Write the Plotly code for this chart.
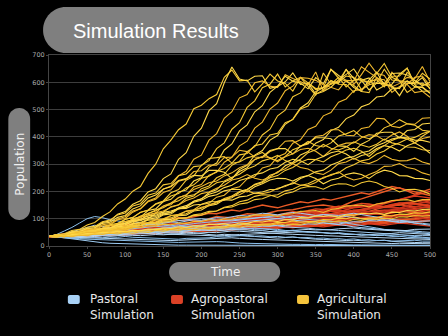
import plotly.graph_objects as go

# ---------------- data (every 10 time steps) ----------------
time = list(range(0, 501, 10))

pastoral_runs = [
    [35, 34, 30, 26, 22, 18, 14, 12, 10, 9,
     8, 7, 6, 5, 5, 4, 4, 3, 3, 3,
     2, 2, 2, 2, 1, 1, 1, 1, 1, 1,
     1, 1, 1, 1, 1, 1, 1, 1, 1, 1,
     1, 1, 1, 1, 1, 1, 1, 1, 1, 1,
     1],
    [35, 38, 44, 52, 60, 70, 76, 72, 66, 62,
     60, 58, 54, 55, 52, 50, 47, 48, 51, 49,
     45, 42, 40, 43, 41, 38, 36, 35, 33, 30,
     29, 31, 33, 30, 27, 25, 24, 22, 21, 20,
     21, 19, 18, 20, 21, 17, 15, 14, 13, 12,
     12],
    [35, 37, 39, 40, 43, 46, 49, 52, 56, 58,
     61, 64, 68, 70, 72, 70, 69, 74, 79, 82,
     85, 88, 91, 93, 95, 98, 101, 103, 106, 108,
     111, 107, 102, 100, 98, 95, 92, 90, 88, 84,
     80, 75, 70, 66, 61, 58, 55, 52, 50, 48,
     45],
    [35, 35, 37, 36, 39, 38, 42, 43, 46, 45,
     49, 50, 53, 51, 49, 54, 56, 55, 59, 58,
     62, 61, 63, 64, 67, 66, 71, 70, 73, 72,
     76, 75, 79, 77, 81, 80, 85, 82, 80, 86,
     89, 88, 93, 92, 96, 92, 89, 90, 84, 83,
     80],
    [35, 34, 34, 32, 30, 29, 28, 27, 26, 25,
     25, 24, 24, 23, 22, 21, 20, 21, 22, 24,
     25, 27, 28, 29, 30, 28, 26, 25, 24, 23,
     22, 21, 20, 19, 18, 17, 16, 15, 14, 13,
     12, 11, 10, 9, 8, 9, 10, 10, 9, 8,
     8],
    [35, 37, 36, 40, 39, 43, 42, 46, 45, 48,
     47, 50, 49, 52, 51, 54, 55, 57, 58, 56,
     57, 59, 61, 58, 59, 61, 63, 65, 64, 62,
     61, 57, 56, 52, 52, 49, 49, 45, 46, 43,
     43, 40, 41, 38, 39, 35, 36, 32, 31, 28,
     28],
    [35, 37, 39, 43, 45, 50, 52, 57, 60, 66,
     68, 73, 75, 80, 82, 87, 90, 95, 98, 99,
     100, 97, 95, 92, 92, 95, 98, 102, 105, 103,
     100, 97, 96, 93, 90, 87, 85, 82, 80, 75,
     70, 67, 65, 62, 60, 59, 58, 56, 55, 52,
     50],
    [35, 33, 34, 35, 36, 37, 38, 40, 41, 42,
     43, 44, 45, 46, 47, 44, 43, 40, 41, 38,
     39, 36, 37, 38, 41, 42, 43, 44, 46, 47,
     49, 50, 51, 52, 53, 50, 49, 46, 46, 43,
     43, 40, 41, 42, 45, 46, 49, 47, 47, 44,
     42],
    [35, 33, 32, 30, 28, 29, 31, 30, 33, 32,
     35, 32, 31, 28, 29, 26, 26, 25, 28, 29,
     31, 30, 34, 33, 36, 37, 39, 36, 37, 34,
     35, 32, 33, 30, 31, 28, 29, 26, 27, 24,
     26, 22, 23, 20, 21, 18, 19, 18, 21, 18,
     18],
    [35, 38, 40, 43, 45, 48, 50, 53, 55, 53,
     52, 55, 58, 60, 62, 65, 68, 70, 72, 74,
     75, 78, 80, 83, 85, 88, 90, 93, 95, 98,
     100, 105, 110, 108, 105, 110, 115, 114, 112, 116,
     120, 115, 110, 105, 100, 97, 94, 92, 90, 91,
     92],
    [35, 36, 37, 35, 35, 37, 39, 40, 43, 44,
     46, 47, 49, 50, 53, 51, 51, 52, 55, 56,
     59, 57, 56, 58, 62, 59, 59, 56, 56, 53,
     53, 54, 57, 58, 61, 59, 59, 60, 63, 64,
     66, 63, 61, 59, 59, 56, 56, 57, 61, 61,
     62],
    [35, 32, 30, 28, 26, 25, 24, 22, 20, 19,
     18, 17, 16, 15, 14, 13, 12, 13, 14, 15,
     14, 15, 16, 15, 12, 11, 10, 9, 8, 8,
     7, 7, 6, 6, 5, 5, 6, 5, 5, 5,
     4, 4, 4, 4, 3, 3, 3, 3, 3, 2,
     2],
    [35, 36, 38, 36, 36, 39, 40, 43, 41, 45,
     47, 50, 50, 53, 54, 57, 57, 61, 62, 65,
     66, 69, 70, 74, 76, 79, 80, 78, 77, 74,
     74, 70, 69, 66, 65, 62, 61, 58, 57, 55,
     53, 50, 50, 47, 45, 42, 41, 38, 38, 38,
     38],
    [35, 34, 36, 35, 34, 33, 35, 37, 36, 38,
     40, 39, 38, 40, 42, 41, 43, 45, 47, 46,
     48, 50, 49, 52, 55, 54, 52, 50, 49, 47,
     46, 44, 43, 41, 40, 39, 38, 37, 36, 35,
     34, 33, 31, 30, 29, 28, 27, 26, 25, 24,
     24],
    [35, 42, 55, 68, 84, 100, 108, 104, 96, 92,
     88, 90, 84, 80, 82, 76, 74, 78, 72, 70,
     73, 68, 66, 70, 64, 62, 65, 60, 58, 61,
     56, 55, 58, 53, 50, 52, 48, 46, 49, 45,
     42, 44, 40, 38, 41, 37, 35, 38, 34, 32,
     30],
    [35, 37, 40, 44, 47, 52, 56, 60, 64, 68,
     72, 70, 76, 80, 78, 84, 88, 86, 92, 96,
     94, 100, 104, 102, 108, 112, 110, 116, 120, 118,
     114, 119, 123, 120, 116, 112, 115, 110, 106, 108,
     104, 100, 96, 98, 94, 90, 86, 88, 84, 80,
     76],
]

agropastoral_runs = [
    [35, 39, 41, 45, 46, 43, 55, 57, 61, 57,
     58, 62, 66, 71, 74, 68, 70, 77, 83, 87,
     90, 85, 86, 92, 97, 100, 104, 98, 99, 106,
     110, 116, 121, 115, 113, 120, 126, 130, 133, 126,
     124, 130, 137, 142, 145, 150, 152, 146, 144, 148,
     144],
    [35, 33, 33, 37, 39, 43, 45, 42, 43, 48,
     50, 54, 56, 52, 52, 57, 61, 56, 58, 62,
     66, 70, 72, 68, 68, 73, 77, 81, 83, 78,
     79, 84, 88, 85, 84, 91, 95, 90, 91, 96,
     100, 104, 106, 101, 98, 106, 112, 109, 108, 113,
     117],
    [35, 40, 44, 46, 49, 54, 58, 62, 63, 68,
     72, 70, 70, 77, 83, 86, 88, 93, 95, 94,
     92, 100, 108, 106, 104, 111, 118, 117, 115, 122,
     129, 131, 133, 139, 145, 148, 150, 146, 141, 153,
     165, 173, 182, 192, 201, 208, 214, 202, 190, 199,
     208],
    [35, 36, 37, 40, 42, 41, 40, 45, 49, 48,
     47, 53, 58, 57, 55, 61, 66, 64, 62, 68,
     74, 73, 71, 76, 80, 83, 86, 85, 83, 89,
     95, 98, 101, 99, 97, 104, 110, 108, 105, 112,
     118, 116, 114, 119, 123, 127, 130, 128, 126, 131,
     135],
    [35, 33, 32, 35, 38, 37, 36, 39, 42, 41,
     40, 44, 47, 46, 45, 49, 52, 51, 50, 54,
     57, 56, 55, 58, 61, 64, 67, 66, 64, 67,
     70, 73, 76, 74, 72, 76, 80, 79, 77, 81,
     84, 87, 90, 88, 86, 90, 93, 91, 89, 93,
     96],
    [35, 39, 42, 45, 47, 50, 52, 56, 60, 58,
     57, 63, 68, 72, 75, 74, 72, 79, 85, 88,
     89, 87, 84, 91, 98, 101, 104, 108, 111, 109,
     107, 114, 120, 124, 127, 124, 121, 129, 136, 139,
     142, 146, 150, 148, 145, 152, 158, 155, 152, 159,
     166],
    [35, 37, 38, 40, 41, 45, 48, 47, 46, 51,
     55, 58, 62, 60, 59, 63, 67, 69, 70, 74,
     78, 82, 85, 84, 82, 88, 93, 97, 100, 98,
     96, 102, 108, 111, 115, 114, 112, 118, 124, 126,
     131, 129, 127, 135, 143, 147, 150, 156, 162, 167,
     171],
    [35, 34, 34, 37, 39, 38, 37, 41, 44, 43,
     42, 45, 48, 51, 53, 51, 50, 54, 57, 56,
     55, 58, 61, 64, 66, 64, 63, 67, 70, 73,
     75, 74, 72, 76, 79, 82, 84, 82, 81, 85,
     89, 88, 86, 90, 94, 97, 99, 98, 96, 100,
     103],
    [35, 38, 40, 43, 46, 44, 43, 47, 51, 54,
     57, 55, 54, 59, 63, 66, 68, 66, 65, 71,
     76, 79, 81, 85, 88, 86, 84, 89, 93, 96,
     99, 103, 106, 104, 102, 109, 115, 118, 120, 117,
     114, 120, 126, 129, 131, 128, 125, 132, 138, 140,
     142],
    [35, 37, 39, 42, 44, 47, 49, 48, 47, 52,
     56, 59, 62, 61, 59, 65, 70, 73, 76, 75,
     73, 79, 84, 88, 92, 90, 88, 95, 101, 104,
     107, 111, 114, 112, 110, 117, 123, 127, 130, 128,
     126, 132, 138, 141, 144, 142, 139, 147, 154, 151,
     148],
    [35, 33, 31, 34, 36, 39, 41, 40, 39, 43,
     46, 49, 51, 50, 48, 52, 56, 59, 61, 60,
     58, 63, 67, 70, 72, 71, 69, 74, 78, 81,
     83, 82, 80, 85, 90, 93, 95, 94, 92, 97,
     101, 104, 106, 105, 103, 108, 113, 116, 118, 121,
     124],
    [35, 37, 38, 41, 43, 45, 47, 51, 53, 52,
     50, 56, 61, 64, 66, 65, 63, 69, 74, 77,
     79, 78, 76, 82, 88, 91, 93, 96, 98, 96,
     94, 101, 107, 110, 113, 117, 120, 118, 116, 123,
     130, 133, 136, 139, 142, 140, 138, 147, 155, 158,
     160],
    [35, 35, 36, 38, 40, 43, 45, 50, 50, 49,
     48, 53, 57, 56, 55, 60, 64, 67, 70, 68,
     66, 71, 76, 79, 82, 80, 78, 83, 88, 91,
     94, 93, 91, 96, 101, 104, 106, 104, 102, 108,
     113, 116, 119, 117, 115, 121, 126, 124, 122, 127,
     131],
    [35, 39, 42, 46, 50, 49, 47, 53, 58, 62,
     66, 64, 63, 70, 75, 79, 82, 81, 79, 86,
     92, 95, 98, 97, 95, 101, 107, 111, 115, 113,
     112, 117, 122, 120, 118, 125, 132, 137, 141, 145,
     148, 147, 145, 153, 160, 165, 170, 177, 183, 180,
     176],
    [35, 35, 35, 37, 38, 40, 42, 41, 40, 43,
     46, 48, 50, 49, 47, 50, 54, 53, 52, 55,
     59, 61, 63, 62, 60, 64, 67, 70, 72, 71,
     69, 73, 76, 75, 73, 77, 81, 84, 86, 85,
     83, 87, 91, 90, 88, 92, 96, 98, 100, 103,
     106],
    [35, 37, 39, 42, 45, 44, 42, 47, 51, 54,
     56, 55, 53, 58, 62, 65, 68, 67, 65, 70,
     75, 78, 81, 80, 78, 84, 87, 90, 93, 92,
     90, 96, 101, 104, 107, 105, 104, 110, 116, 119,
     121, 120, 118, 124, 130, 133, 136, 135, 133, 140,
     146],
    [35, 36, 37, 40, 42, 45, 46, 45, 44, 48,
     51, 54, 56, 55, 53, 57, 61, 64, 67, 66,
     65, 69, 72, 71, 69, 74, 78, 81, 83, 82,
     80, 84, 88, 91, 93, 92, 90, 95, 99, 102,
     105, 104, 102, 106, 110, 113, 116, 115, 113, 118,
     122],
    [35, 39, 43, 45, 48, 52, 55, 54, 52, 58,
     62, 66, 68, 67, 65, 71, 77, 80, 82, 81,
     79, 86, 91, 94, 97, 96, 94, 101, 107, 110,
     113, 112, 110, 117, 123, 126, 128, 127, 125, 133,
     140, 143, 146, 145, 143, 150, 157, 160, 162, 165,
     168],
    [35, 34, 34, 37, 40, 39, 38, 42, 45, 48,
     50, 49, 48, 51, 53, 57, 60, 63, 66, 64,
     63, 67, 70, 73, 76, 74, 73, 77, 80, 83,
     86, 85, 83, 88, 92, 91, 89, 93, 97, 100,
     103, 102, 100, 104, 108, 111, 114, 113, 112, 111,
     110],
    [35, 37, 40, 43, 46, 48, 51, 50, 49, 53,
     57, 60, 63, 62, 60, 65, 69, 72, 74, 72,
     71, 76, 81, 84, 86, 85, 83, 89, 94, 97,
     100, 98, 97, 103, 108, 111, 113, 112, 110, 116,
     121, 124, 127, 126, 124, 130, 136, 139, 142, 149,
     155],
    [35, 36, 37, 36, 35, 38, 40, 43, 44, 43,
     42, 45, 48, 47, 46, 49, 53, 55, 56, 55,
     53, 57, 60, 59, 58, 61, 64, 67, 68, 67,
     65, 69, 72, 71, 70, 73, 76, 78, 80, 79,
     77, 81, 84, 83, 82, 85, 88, 87, 86, 89,
     92],
    [35, 38, 41, 43, 45, 49, 52, 55, 57, 56,
     55, 60, 64, 67, 70, 69, 67, 73, 77, 80,
     83, 82, 80, 86, 91, 94, 97, 96, 94, 99,
     104, 103, 100, 106, 112, 115, 118, 117, 115, 122,
     128, 134, 140, 147, 155, 162, 170, 178, 186, 193,
     200],
    [35, 39, 44, 48, 52, 55, 60, 64, 67, 72,
     76, 80, 85, 83, 88, 95, 99, 104, 101, 108,
     115, 120, 118, 125, 132, 128, 135, 142, 150, 145,
     140, 148, 155, 162, 158, 165, 172, 168, 175, 182,
     188, 195, 190, 200, 210, 218, 212, 205, 198, 190,
     185],
    [35, 34, 37, 40, 39, 43, 46, 50, 48, 52,
     56, 54, 58, 62, 60, 64, 68, 72, 70, 74,
     78, 82, 80, 76, 80, 84, 88, 86, 82, 86,
     90, 94, 92, 88, 92, 96, 100, 98, 94, 98,
     102, 106, 104, 100, 104, 108, 112, 110, 106, 102,
     98],
    [35, 38, 42, 40, 45, 50, 48, 53, 58, 56,
     61, 66, 64, 69, 74, 72, 77, 82, 80, 85,
     90, 88, 93, 98, 96, 101, 106, 104, 110, 116,
     114, 120, 126, 124, 130, 136, 134, 140, 146, 144,
     150, 156, 154, 148, 142, 146, 152, 158, 156, 150,
     146],
    [35, 36, 38, 35, 37, 40, 43, 41, 44, 47,
     45, 48, 52, 50, 53, 57, 55, 58, 62, 60,
     58, 62, 66, 64, 61, 65, 69, 67, 64, 68,
     72, 70, 67, 71, 75, 73, 70, 74, 78, 76,
     73, 77, 81, 79, 76, 80, 84, 82, 79, 76,
     73],
]

agricultural_runs = [
    [35, 42, 45, 57, 61, 77, 86, 108, 125, 154,
     172, 201, 218, 266, 300, 356, 388, 426, 447, 503,
     516, 540, 555, 618, 645, 605, 608, 565, 594, 630,
     605, 596, 568, 618, 598, 577, 580, 648, 615, 604,
     588, 566, 562, 618, 596, 581, 577, 637, 605, 592,
     590],
    [35, 40, 40, 50, 53, 63, 67, 86, 92, 116,
     126, 153, 166, 198, 210, 247, 264, 318, 342, 402,
     432, 496, 522, 598, 656, 612, 605, 622, 624, 578,
     585, 602, 634, 592, 597, 557, 566, 582, 609, 628,
     649, 607, 616, 572, 587, 593, 630, 652, 591, 567,
     568],
    [35, 39, 38, 47, 48, 59, 60, 73, 77, 96,
     101, 124, 137, 165, 176, 208, 220, 257, 274, 318,
     333, 388, 412, 468, 492, 543, 555, 598, 605, 586,
     581, 628, 614, 602, 591, 638, 567, 597, 605, 648,
     592, 628, 670, 633, 625, 583, 596, 618, 613, 658,
     602],
    [35, 34, 40, 41, 50, 50, 61, 62, 75, 79,
     98, 104, 124, 131, 155, 165, 195, 207, 241, 256,
     296, 313, 357, 378, 428, 452, 508, 532, 580, 593,
     630, 583, 605, 618, 585, 553, 634, 593, 601, 623,
     618, 573, 591, 598, 648, 608, 605, 563, 582, 583,
     560],
    [35, 38, 35, 43, 43, 53, 52, 64, 65, 80,
     82, 101, 106, 130, 136, 163, 171, 198, 205, 238,
     250, 289, 304, 352, 374, 422, 444, 492, 514, 563,
     586, 622, 604, 597, 576, 617, 595, 647, 625, 607,
     581, 567, 609, 637, 591, 587, 551, 597, 595, 617,
     575],
    [35, 37, 34, 42, 42, 51, 50, 60, 59, 73,
     75, 92, 95, 115, 121, 146, 151, 178, 186, 216,
     225, 259, 270, 307, 325, 367, 384, 432, 454, 502,
     524, 569, 586, 617, 615, 607, 591, 582, 572, 607,
     605, 657, 636, 617, 587, 637, 604, 592, 562, 567,
     545],
    [35, 36, 40, 40, 48, 48, 57, 57, 68, 69,
     83, 85, 98, 100, 119, 124, 144, 151, 175, 183,
     210, 220, 250, 263, 296, 310, 346, 364, 407, 428,
     477, 498, 547, 561, 599, 573, 581, 593, 618, 583,
     608, 613, 595, 633, 669, 618, 605, 603, 598, 633,
     612],
    [35, 37, 34, 41, 40, 48, 48, 56, 56, 66,
     68, 80, 83, 95, 97, 114, 117, 136, 142, 164,
     172, 196, 206, 235, 246, 280, 296, 333, 350, 388,
     405, 446, 465, 506, 525, 566, 580, 605, 596, 647,
     614, 607, 572, 597, 594, 632, 634, 627, 607, 587,
     600],
    [35, 34, 39, 38, 45, 45, 52, 51, 59, 59,
     68, 70, 81, 83, 95, 97, 111, 113, 128, 133,
     152, 157, 179, 186, 210, 217, 246, 255, 286, 294,
     327, 339, 377, 389, 427, 439, 477, 489, 527, 539,
     569, 574, 598, 613, 609, 563, 585, 593, 618, 623,
     588],
    [35, 42, 42, 52, 56, 69, 72, 89, 95, 114,
     121, 147, 155, 186, 194, 224, 229, 258, 264, 291,
     294, 321, 324, 328, 304, 334, 339, 368, 374, 407,
     413, 452, 463, 502, 513, 556, 572, 607, 593, 592,
     563, 605, 603, 609, 583, 622, 623, 652, 593, 597,
     580],
    [35, 38, 37, 44, 43, 50, 50, 58, 58, 66,
     66, 75, 74, 85, 85, 97, 97, 111, 113, 128,
     132, 148, 153, 171, 177, 197, 205, 226, 235, 259,
     268, 294, 306, 334, 346, 377, 390, 423, 435, 467,
     480, 510, 520, 546, 550, 576, 579, 606, 584, 581,
     560],
    [35, 40, 38, 49, 49, 61, 63, 78, 82, 99,
     107, 128, 136, 162, 171, 196, 206, 237, 245, 273,
     276, 297, 296, 324, 326, 351, 346, 326, 324, 346,
     356, 384, 386, 366, 374, 401, 406, 426, 426, 406,
     404, 431, 436, 468, 466, 439, 434, 448, 446, 468,
     470],
    [35, 36, 40, 41, 50, 52, 62, 66, 78, 83,
     97, 105, 123, 132, 153, 162, 183, 192, 213, 224,
     248, 256, 273, 284, 303, 308, 323, 331, 343, 321,
     313, 328, 353, 364, 383, 368, 363, 378, 403, 411,
     423, 401, 393, 406, 433, 444, 463, 448, 443, 424,
     420],
    [35, 41, 40, 51, 52, 65, 67, 83, 87, 105,
     112, 136, 147, 176, 187, 209, 217, 240, 247, 259,
     257, 277, 277, 270, 247, 273, 287, 317, 327, 350,
     357, 357, 337, 367, 377, 397, 397, 393, 367, 365,
     347, 373, 387, 413, 417, 417, 397, 423, 427, 447,
     450],
    [35, 37, 34, 42, 43, 52, 53, 64, 66, 78,
     83, 97, 103, 120, 128, 147, 158, 177, 188, 207,
     218, 232, 238, 257, 268, 287, 298, 317, 328, 324,
     308, 327, 338, 354, 358, 347, 328, 352, 368, 377,
     378, 397, 408, 404, 388, 407, 418, 402, 378, 394,
     400],
    [35, 35, 41, 41, 49, 50, 60, 63, 74, 78,
     90, 96, 110, 118, 132, 140, 157, 166, 182, 188,
     202, 213, 232, 238, 252, 263, 282, 293, 312, 320,
     332, 313, 302, 318, 342, 353, 372, 358, 352, 363,
     382, 370, 362, 373, 392, 378, 372, 363, 362, 353,
     350],
    [35, 38, 35, 42, 42, 50, 50, 59, 60, 70,
     72, 82, 86, 98, 103, 117, 123, 140, 148, 164,
     173, 190, 198, 214, 223, 240, 248, 262, 268, 282,
     288, 307, 318, 312, 298, 317, 328, 342, 348, 337,
     318, 332, 338, 357, 368, 362, 348, 367, 378, 362,
     340],
    [35, 36, 43, 43, 52, 53, 62, 64, 74, 78,
     90, 94, 107, 110, 122, 128, 142, 150, 167, 176,
     192, 198, 212, 223, 242, 248, 262, 248, 242, 253,
     272, 283, 302, 288, 282, 268, 262, 278, 302, 308,
     322, 308, 302, 313, 332, 318, 312, 313, 322, 308,
     300],
    [35, 37, 34, 41, 40, 47, 46, 54, 54, 62,
     63, 72, 74, 85, 88, 100, 103, 114, 118, 132,
     138, 152, 158, 174, 183, 200, 208, 224, 233, 250,
     258, 277, 288, 307, 318, 317, 308, 327, 338, 352,
     358, 347, 328, 352, 368, 387, 398, 392, 378, 402,
     420],
    [35, 40, 38, 46, 46, 55, 56, 65, 66, 76,
     78, 90, 93, 104, 108, 120, 123, 137, 143, 160,
     168, 182, 188, 202, 208, 207, 198, 217, 228, 242,
     248, 247, 238, 252, 258, 247, 228, 242, 248, 262,
     268, 262, 248, 267, 278, 272, 258, 257, 248, 247,
     240],
    [35, 35, 40, 39, 46, 46, 54, 54, 62, 63,
     72, 74, 84, 86, 97, 100, 112, 116, 127, 130,
     142, 148, 162, 168, 182, 188, 202, 193, 192, 198,
     212, 218, 232, 223, 222, 233, 252, 258, 272, 253,
     242, 248, 262, 273, 292, 293, 302, 288, 282, 268,
     260],
    [35, 37, 34, 40, 38, 44, 43, 50, 50, 58,
     58, 67, 68, 77, 78, 88, 90, 100, 103, 114,
     118, 127, 128, 142, 148, 162, 168, 182, 188, 187,
     178, 192, 198, 212, 218, 217, 208, 222, 228, 227,
     218, 232, 238, 232, 218, 212, 198, 207, 208, 202,
     190],
    [35, 39, 36, 44, 43, 52, 53, 64, 66, 78,
     83, 94, 98, 110, 113, 124, 128, 137, 138, 150,
     153, 162, 163, 170, 168, 180, 183, 194, 198, 207,
     208, 222, 228, 247, 258, 272, 278, 297, 308, 322,
     328, 342, 348, 367, 378, 392, 398, 397, 388, 387,
     380],
    [35, 40, 38, 44, 43, 50, 50, 57, 56, 62,
     60, 68, 68, 74, 73, 80, 78, 84, 83, 90,
     90, 96, 93, 100, 98, 106, 106, 114, 113, 114,
     108, 117, 118, 127, 128, 130, 123, 134, 138, 147,
     148, 150, 143, 154, 158, 167, 168, 170, 163, 170,
     170],
    [35, 33, 38, 36, 42, 40, 46, 44, 50, 48,
     54, 52, 57, 56, 62, 59, 64, 62, 68, 66,
     72, 67, 70, 70, 77, 76, 82, 77, 80, 80,
     87, 86, 92, 87, 90, 90, 97, 96, 102, 100,
     107, 100, 102, 103, 112, 110, 117, 116, 122, 120,
     125],
    [35, 38, 36, 42, 40, 46, 44, 50, 48, 54,
     53, 58, 56, 62, 60, 66, 64, 70, 68, 74,
     73, 80, 78, 81, 76, 84, 83, 90, 88, 93,
     90, 97, 96, 104, 103, 110, 108, 111, 106, 114,
     113, 120, 118, 121, 116, 124, 123, 130, 128, 134,
     135],
    [35, 32, 36, 34, 40, 38, 44, 42, 47, 44,
     50, 47, 52, 50, 57, 54, 60, 57, 62, 59,
     64, 62, 67, 66, 72, 69, 74, 72, 77, 76,
     82, 77, 80, 79, 86, 84, 90, 87, 92, 90,
     97, 94, 100, 97, 102, 100, 107, 106, 112, 109,
     112],
    [35, 40, 38, 46, 46, 54, 54, 61, 60, 68,
     68, 76, 76, 84, 83, 92, 93, 102, 103, 112,
     113, 124, 128, 140, 143, 154, 158, 170, 173, 184,
     188, 202, 208, 222, 228, 242, 248, 262, 268, 287,
     298, 312, 318, 337, 348, 367, 378, 392, 398, 412,
     420],
]

x_ticks = [0, 50, 100, 150, 200, 250, 300, 350, 400, 450, 500]
y_ticks = [0, 100, 200, 300, 400, 500, 600, 700]
legend_labels = ["Pastoral<br>Simulation", "Agropastoral<br>Simulation", "Agricultural<br>Simulation"]

for group in (pastoral_runs, agropastoral_runs, agricultural_runs):
    for k, run in enumerate(group):
        if len(run) != len(time):
            raise ValueError(f"run {k} has {len(run)} values")

# ---------------- styling ----------------
blue_shades = ["#9fcdf4", "#b5d9f7", "#8cc0ec"]
red_shades = ["#e2461f", "#d93a1e", "#ea5a26", "#c9321c"]
yellow_shades = ["#f6c935", "#ffd94a", "#f0b92e"]
legend_colors = ["#a8d1f6", "#db4126", "#f6c43c"]

W, H = 448, 336
ML, MR, MT, MB = 49, 15, 55, 90
PW, PH = W - ML - MR, H - MT - MB


def px(xp):
    return (xp - ML) / PW


def py(yp):
    return (H - MB - yp) / PH


def rounded(x0, y0, x1, y1, r):
    k = 0.5523 * r

    def p(x, y):
        return f"{px(x):.5f},{py(y):.5f}"

    s = "M" + p(x0 + r, y0)
    s += " L" + p(x1 - r, y0)
    s += " C" + p(x1 - r + k, y0) + " " + p(x1, y0 + r - k) + " " + p(x1, y0 + r)
    s += " L" + p(x1, y1 - r)
    s += " C" + p(x1, y1 - r + k) + " " + p(x1 - r + k, y1) + " " + p(x1 - r, y1)
    s += " L" + p(x0 + r, y1)
    s += " C" + p(x0 + r - k, y1) + " " + p(x0, y1 - r + k) + " " + p(x0, y1 - r)
    s += " L" + p(x0, y0 + r)
    s += " C" + p(x0, y0 + r - k) + " " + p(x0 + r - k, y0) + " " + p(x0 + r, y0)
    s += " Z"
    return s


fig = go.Figure()

for i, run in enumerate(agropastoral_runs):
    fig.add_trace(go.Scatter(x=time, y=run, mode="lines", showlegend=False, hoverinfo="skip",
                             line=dict(color=red_shades[i % len(red_shades)], width=1.4)))
for i, run in enumerate(pastoral_runs):
    fig.add_trace(go.Scatter(x=time, y=run, mode="lines", showlegend=False, hoverinfo="skip",
                             line=dict(color=blue_shades[i % len(blue_shades)], width=1.0)))
for i, run in enumerate(agricultural_runs):
    fig.add_trace(go.Scatter(x=time, y=run, mode="lines", showlegend=False, hoverinfo="skip",
                             line=dict(color=yellow_shades[i % len(yellow_shades)], width=1.1)))

pill_color = "#7f7f7f"
shapes = [
    dict(type="path", xref="paper", yref="paper", path=rounded(43, 7, 271, 53, 23),
         fillcolor=pill_color, line=dict(width=0), layer="above"),
    dict(type="path", xref="paper", yref="paper", path=rounded(8, 108, 30, 220, 11),
         fillcolor=pill_color, line=dict(width=0), layer="above"),
    dict(type="path", xref="paper", yref="paper", path=rounded(170, 262, 282, 282, 10),
         fillcolor=pill_color, line=dict(width=0), layer="above"),
]
legend_sq_x = [68, 172, 299]
legend_txt_x = [88, 190, 317]
for sx, c in zip(legend_sq_x, legend_colors):
    shapes.append(dict(type="path", xref="paper", yref="paper", path=rounded(sx, 295, sx + 12, 304, 2),
                       fillcolor=c, line=dict(width=0)))

annotations = [
    dict(text="Simulation Results", x=px(157), y=py(31), xref="paper", yref="paper",
         showarrow=False, xanchor="center", yanchor="middle",
         font=dict(family="Liberation Sans, Arial", size=20, color="white")),
    dict(text="Population", x=px(19.5), y=py(164), xref="paper", yref="paper", textangle=-90,
         showarrow=False, xanchor="center", yanchor="middle",
         font=dict(family="DejaVu Sans", size=12, color="#f0f0f0")),
    dict(text="Time", x=px(226), y=py(272), xref="paper", yref="paper",
         showarrow=False, xanchor="center", yanchor="middle",
         font=dict(family="DejaVu Sans", size=12, color="#f0f0f0")),
]
for tx, lab in zip(legend_txt_x, legend_labels):
    annotations.append(dict(text=lab, x=px(tx), y=py(306.5), xref="paper", yref="paper",
                            showarrow=False, xanchor="left", yanchor="middle", align="left",
                            font=dict(family="DejaVu Sans", size=12, color="#e8e8e8")))

fig.update_layout(
    width=W, height=H,
    margin=dict(l=ML, r=MR, t=MT, b=MB, pad=0),
    paper_bgcolor="black", plot_bgcolor="black",
    shapes=shapes, annotations=annotations,
    showlegend=False,
    xaxis=dict(range=[0, 500], tickvals=x_ticks, ticktext=[str(v) for v in x_ticks],
               showgrid=False, zeroline=False, showline=True, linecolor="#444", mirror=True,
               ticks="outside", ticklen=2, tickcolor="#444",
               tickfont=dict(family="DejaVu Sans", size=6.5, color="#aaaaaa")),
    yaxis=dict(range=[0, 700], tickvals=y_ticks, ticktext=[str(v) for v in y_ticks],
               showgrid=True, gridcolor="#3d3d3d", gridwidth=1, zeroline=False,
               showline=True, linecolor="#444", mirror=True,
               ticks="outside", ticklen=2, tickcolor="#444",
               tickfont=dict(family="DejaVu Sans", size=6.5, color="#aaaaaa")),
)

fig.write_html("out.html")
